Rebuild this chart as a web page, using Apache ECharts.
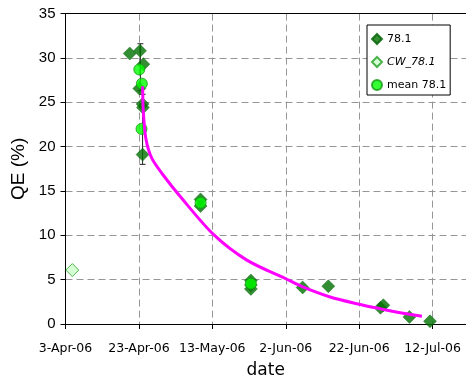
<!DOCTYPE html>
<html><head><meta charset="utf-8">
<script src="https://cdn.jsdelivr.net/npm/echarts@6/dist/echarts.min.js"></script>
<style>html,body{margin:0;padding:0;background:#fff}#c{width:466px;height:384px}</style>
</head><body><div id="c"></div>
<script>
// x values are days after 3-Apr-2006
const baseDate = Date.UTC(2006, 3, 3);
const monthNames = ['Jan','Feb','Mar','Apr','May','Jun','Jul','Aug','Sep','Oct','Nov','Dec'];

const qeDays   = [17.5, 20.3, 21.2, 20.1, 21.0, 21.1, 21.0, 36.8, 36.8, 50.5, 50.5, 50.5, 64.6, 71.6, 85.8, 86.6, 93.7, 99.3];
const qeValues = [30.5, 30.8, 29.3, 26.55, 24.8, 24.4, 19.1, 14.05, 13.3, 4.9, 3.96, 4.4, 4.12, 4.26, 1.84, 2.11, 0.8, 0.3];

const cwDays   = [1.85];
const cwValues = [6.08];

const meanDays   = [20.1, 20.8, 20.7, 36.8, 50.5];
const meanValues = [28.7, 27.1, 22.0, 13.67, 4.55];

const errDays = [20.4, 21.0];
const errLow  = [26.3, 18.0];
const errHigh = [31.6, 25.9];

const fitDays   = [21.0, 21.1, 21.2, 21.9, 23.5, 26.6, 31.2, 40.3, 49.4, 60.0, 64.8, 72.1, 79.3, 85.7, 92.0, 97.1];
const fitValues = [26.8, 25.0, 23.9, 20.9, 18.7, 16.8, 14.4, 10.1, 7.2, 5.1, 4.15, 3.04, 2.29, 1.73, 1.22, 0.88];

const xTickStep = 20;
const yTickStep = 5;

function zip(a, b) { return a.map((v, i) => [v, b[i]]); }
function dayLabel(d) {
  const dt = new Date(baseDate + d * 86400000);
  return dt.getUTCDate() + '-' + monthNames[dt.getUTCMonth()] + '-' + String(dt.getUTCFullYear()).slice(2);
}

const chart = echarts.init(document.getElementById('c'), null, {renderer: 'canvas'});
const gridLine = {show: true, showMaxLine: false, lineStyle: {color: '#969696', type: [7, 4], width: 1}};
const xMax = 109.1;
chart.setOption({
  animation: false,
  backgroundColor: '#fff',
  grid: {left: 65.5, right: 0, top: 13.6, bottom: 56.8},
  legend: {
    data: ['78.1', 'CW_78.1', 'mean 78.1'],
    orient: 'vertical', left: 367, top: 25,
    itemWidth: 10, itemHeight: 10, itemGap: 11,
    padding: [8, 4, 4, 4],
    borderColor: '#000', borderWidth: 1, backgroundColor: '#fff',
    textStyle: {fontFamily: 'DejaVu Sans', fontSize: 11, color: '#000', rich: {i: {fontStyle: 'italic', fontFamily: 'DejaVu Sans', fontSize: 11, color: '#000'}}},
    formatter: n => n === 'CW_78.1' ? '{i|CW_78.1}' : n
  },
  xAxis: [{
    type: 'value', min: 0, max: xMax, interval: xTickStep,
    name: 'date', nameLocation: 'middle', nameGap: 38,
    nameTextStyle: {fontFamily: 'DejaVu Sans', fontSize: 17, color: '#000'},
    axisLine: {show: true, lineStyle: {color: '#000', width: 1}},
    axisTick: {show: true, inside: false, length: 5, lineStyle: {color: '#000'}},
    axisLabel: {formatter: dayLabel, showMaxLabel: false, margin: 18, fontFamily: 'DejaVu Sans', fontSize: 12.5, color: '#000'},
    splitLine: gridLine
  }, {
    type: 'value', position: 'top', min: 0, max: xMax, interval: xTickStep,
    axisLine: {show: true, onZero: false, lineStyle: {color: '#000', width: 1}},
    axisTick: {show: false}, axisLabel: {show: false}, splitLine: {show: false}
  }],
  yAxis: {
    type: 'value', min: 0, max: 35, interval: yTickStep,
    name: 'QE (%)', nameLocation: 'middle', nameGap: 34,
    nameTextStyle: {fontFamily: 'Liberation Sans', fontSize: 19, color: '#000'},
    axisLine: {show: true, lineStyle: {color: '#000', width: 1}},
    axisTick: {show: true, inside: false, length: 5, lineStyle: {color: '#000'}},
    axisLabel: {margin: 10, fontFamily: 'Liberation Sans', fontSize: 15, color: '#000'},
    splitLine: gridLine
  },
  series: [
    {
      name: 'err', type: 'custom', z: 1, silent: true,
      data: errDays.map((d, i) => [d, errLow[i], errHigh[i]]),
      encode: {x: 0, y: [1, 2]},
      renderItem: function (params, api) {
        const x = api.value(0);
        const lo = api.coord([x, api.value(1)]);
        const hi = api.coord([x, api.value(2)]);
        const st = {stroke: '#222', lineWidth: 1};
        return {type: 'group', children: [
          {type: 'line', shape: {x1: lo[0], y1: lo[1], x2: hi[0], y2: hi[1]}, style: st},
          {type: 'line', shape: {x1: lo[0] - 3, y1: lo[1], x2: lo[0] + 3, y2: lo[1]}, style: st},
          {type: 'line', shape: {x1: hi[0] - 3, y1: hi[1], x2: hi[0] + 3, y2: hi[1]}, style: st}
        ]};
      }
    },
    {
      name: '78.1', type: 'scatter', z: 2, symbol: 'diamond', symbolSize: 13,
      itemStyle: {color: '#007000', borderColor: '#006000', borderWidth: 0.5},
      data: zip(qeDays, qeValues)
    },
    {
      name: 'CW_78.1', type: 'scatter', z: 2, symbol: 'diamond', symbolSize: 13,
      itemStyle: {color: '#ccffcc', borderColor: '#22a022', borderWidth: 1},
      data: zip(cwDays, cwValues)
    },
    {
      name: 'mean 78.1', type: 'scatter', z: 3, symbol: 'circle', symbolSize: 11,
      itemStyle: {color: '#00ff00', borderColor: '#119911', borderWidth: 1},
      data: zip(meanDays, meanValues)
    },
    {
      name: 'fit', type: 'line', z: 4, smooth: 0.3, symbol: 'none', silent: true,
      lineStyle: {color: '#ff00ff', width: 3},
      data: zip(fitDays, fitValues)
    }
  ]
});
</script></body></html>
